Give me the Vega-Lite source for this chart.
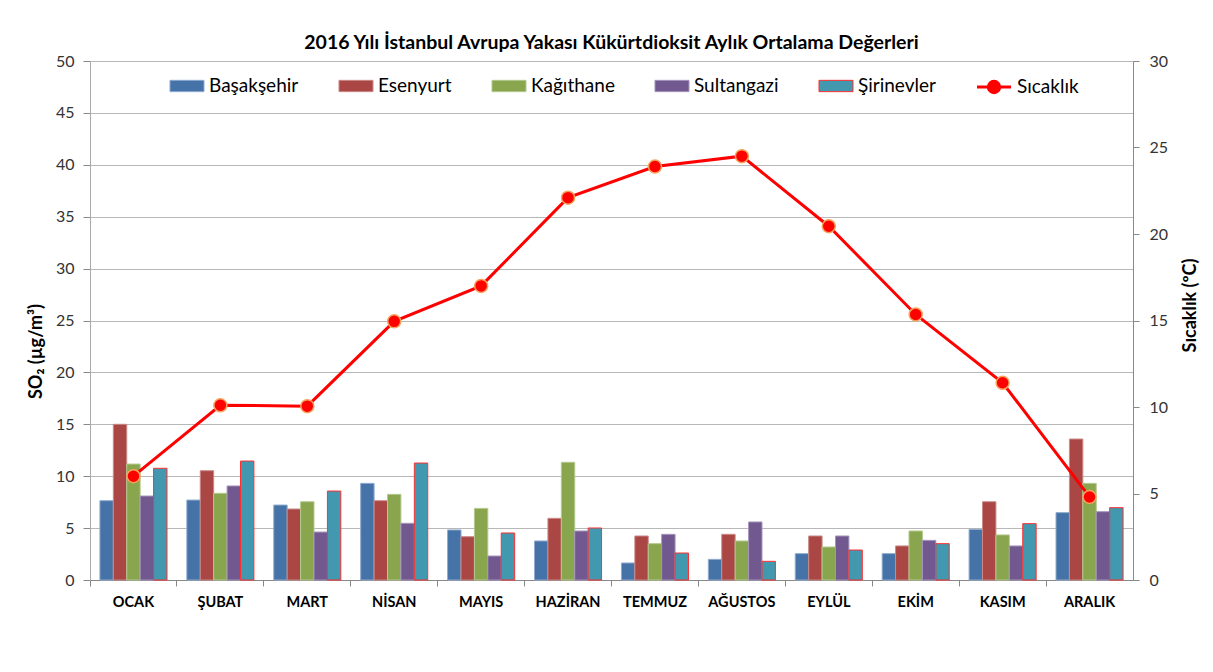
{
  "$schema": "https://vega.github.io/schema/vega-lite/v6.json",
  "width": 1043,
  "height": 519,
  "autosize": {"type": "none"},
  "padding": {"left": 90, "top": 61, "right": 80, "bottom": 92},
  "background": "white",
  "config": {"font": "Lato", "view": {"stroke": null}},
  "title": {"text": "2016 Yılı İstanbul Avrupa Yakası Kükürtdioksit Aylık Ortalama Değerleri", "fontSize": 19.5, "fontWeight": "bold", "anchor": "middle", "offset": 0, "color": "#000000"},
  "datasets": {
    "so2": [
      {"ay": "OCAK", "istasyon": "Başakşehir", "so2": 7.64},
      {"ay": "OCAK", "istasyon": "Esenyurt", "so2": 15.0},
      {"ay": "OCAK", "istasyon": "Kağıthane", "so2": 11.17},
      {"ay": "OCAK", "istasyon": "Sultangazi", "so2": 8.09},
      {"ay": "OCAK", "istasyon": "Şirinevler", "so2": 10.76},
      {"ay": "ŞUBAT", "istasyon": "Başakşehir", "so2": 7.7},
      {"ay": "ŞUBAT", "istasyon": "Esenyurt", "so2": 10.53},
      {"ay": "ŞUBAT", "istasyon": "Kağıthane", "so2": 8.35},
      {"ay": "ŞUBAT", "istasyon": "Sultangazi", "so2": 9.06},
      {"ay": "ŞUBAT", "istasyon": "Şirinevler", "so2": 11.46},
      {"ay": "MART", "istasyon": "Başakşehir", "so2": 7.22},
      {"ay": "MART", "istasyon": "Esenyurt", "so2": 6.84},
      {"ay": "MART", "istasyon": "Kağıthane", "so2": 7.54},
      {"ay": "MART", "istasyon": "Sultangazi", "so2": 4.62},
      {"ay": "MART", "istasyon": "Şirinevler", "so2": 8.57},
      {"ay": "NİSAN", "istasyon": "Başakşehir", "so2": 9.31},
      {"ay": "NİSAN", "istasyon": "Esenyurt", "so2": 7.64},
      {"ay": "NİSAN", "istasyon": "Kağıthane", "so2": 8.25},
      {"ay": "NİSAN", "istasyon": "Sultangazi", "so2": 5.46},
      {"ay": "NİSAN", "istasyon": "Şirinevler", "so2": 11.27},
      {"ay": "MAYIS", "istasyon": "Başakşehir", "so2": 4.82},
      {"ay": "MAYIS", "istasyon": "Esenyurt", "so2": 4.17},
      {"ay": "MAYIS", "istasyon": "Kağıthane", "so2": 6.9},
      {"ay": "MAYIS", "istasyon": "Sultangazi", "so2": 2.31},
      {"ay": "MAYIS", "istasyon": "Şirinevler", "so2": 4.53},
      {"ay": "HAZİRAN", "istasyon": "Başakşehir", "so2": 3.76},
      {"ay": "HAZİRAN", "istasyon": "Esenyurt", "so2": 5.94},
      {"ay": "HAZİRAN", "istasyon": "Kağıthane", "so2": 11.34},
      {"ay": "HAZİRAN", "istasyon": "Sultangazi", "so2": 4.72},
      {"ay": "HAZİRAN", "istasyon": "Şirinevler", "so2": 5.01},
      {"ay": "TEMMUZ", "istasyon": "Başakşehir", "so2": 1.64},
      {"ay": "TEMMUZ", "istasyon": "Esenyurt", "so2": 4.24},
      {"ay": "TEMMUZ", "istasyon": "Kağıthane", "so2": 3.5},
      {"ay": "TEMMUZ", "istasyon": "Sultangazi", "so2": 4.4},
      {"ay": "TEMMUZ", "istasyon": "Şirinevler", "so2": 2.6},
      {"ay": "AĞUSTOS", "istasyon": "Başakşehir", "so2": 1.99},
      {"ay": "AĞUSTOS", "istasyon": "Esenyurt", "so2": 4.4},
      {"ay": "AĞUSTOS", "istasyon": "Kağıthane", "so2": 3.76},
      {"ay": "AĞUSTOS", "istasyon": "Sultangazi", "so2": 5.59},
      {"ay": "AĞUSTOS", "istasyon": "Şirinevler", "so2": 1.8},
      {"ay": "EYLÜL", "istasyon": "Başakşehir", "so2": 2.54},
      {"ay": "EYLÜL", "istasyon": "Esenyurt", "so2": 4.24},
      {"ay": "EYLÜL", "istasyon": "Kağıthane", "so2": 3.18},
      {"ay": "EYLÜL", "istasyon": "Sultangazi", "so2": 4.24},
      {"ay": "EYLÜL", "istasyon": "Şirinevler", "so2": 2.89},
      {"ay": "EKİM", "istasyon": "Başakşehir", "so2": 2.54},
      {"ay": "EKİM", "istasyon": "Esenyurt", "so2": 3.28},
      {"ay": "EKİM", "istasyon": "Kağıthane", "so2": 4.72},
      {"ay": "EKİM", "istasyon": "Sultangazi", "so2": 3.82},
      {"ay": "EKİM", "istasyon": "Şirinevler", "so2": 3.5},
      {"ay": "KASIM", "istasyon": "Başakşehir", "so2": 4.88},
      {"ay": "KASIM", "istasyon": "Esenyurt", "so2": 7.54},
      {"ay": "KASIM", "istasyon": "Kağıthane", "so2": 4.34},
      {"ay": "KASIM", "istasyon": "Sultangazi", "so2": 3.28},
      {"ay": "KASIM", "istasyon": "Şirinevler", "so2": 5.43},
      {"ay": "ARALIK", "istasyon": "Başakşehir", "so2": 6.49},
      {"ay": "ARALIK", "istasyon": "Esenyurt", "so2": 13.58},
      {"ay": "ARALIK", "istasyon": "Kağıthane", "so2": 9.31},
      {"ay": "ARALIK", "istasyon": "Sultangazi", "so2": 6.58},
      {"ay": "ARALIK", "istasyon": "Şirinevler", "so2": 6.97}
    ],
    "sicaklik": [
      {"ay": "OCAK", "t": 6.0},
      {"ay": "ŞUBAT", "t": 10.1},
      {"ay": "MART", "t": 10.05},
      {"ay": "NİSAN", "t": 14.95},
      {"ay": "MAYIS", "t": 17.0},
      {"ay": "HAZİRAN", "t": 22.1},
      {"ay": "TEMMUZ", "t": 23.9},
      {"ay": "AĞUSTOS", "t": 24.5},
      {"ay": "EYLÜL", "t": 20.45},
      {"ay": "EKİM", "t": 15.35},
      {"ay": "KASIM", "t": 11.4},
      {"ay": "ARALIK", "t": 4.8}
    ]
  },
  "layer": [
    {
      "data": {"name": "so2"},
      "mark": {"type": "bar", "strokeWidth": 1},
      "encoding": {
        "x": {
          "field": "ay", "type": "nominal",
          "sort": ["OCAK", "ŞUBAT", "MART", "NİSAN", "MAYIS", "HAZİRAN", "TEMMUZ", "AĞUSTOS", "EYLÜL", "EKİM", "KASIM", "ARALIK"],
          "scale": {"paddingInner": 0, "paddingOuter": 0},
          "axis": {"title": null, "labelAngle": 0, "labelFontSize": 14.5, "labelFontWeight": "bold", "labelColor": "#000000", "domainColor": "#888888", "tickColor": "#888888", "tickSize": 6, "bandPosition": 0, "labelPadding": 9, "grid": false}
        },
        "xOffset": {
          "field": "istasyon", "type": "nominal",
          "sort": ["Başakşehir", "Esenyurt", "Kağıthane", "Sultangazi", "Şirinevler"],
          "scale": {"paddingInner": 0, "paddingOuter": 0.74}
        },
        "y": {
          "field": "so2", "type": "quantitative",
          "scale": {"domain": [0, 50]},
          "axis": {"values": [0, 5, 10, 15, 20, 25, 30, 35, 40, 45, 50], "title": "SO₂  (µg/m³)", "titleFontSize": 18, "titleFontWeight": "bold", "titleColor": "#000000", "titleX": -54, "titleY": 290, "titleBaseline": "middle", "titleAngle": 270, "labelFontSize": 16, "labelColor": "#333333", "labelPadding": 9, "domainColor": "#aaaaaa", "tickColor": "#888888", "tickSize": 7, "gridColor": "#b8b8b8"}
        },
        "color": {
          "field": "istasyon", "type": "nominal",
          "sort": ["Başakşehir", "Esenyurt", "Kağıthane", "Sultangazi", "Şirinevler"],
          "scale": {"domain": ["Başakşehir", "Esenyurt", "Kağıthane", "Sultangazi", "Şirinevler"], "range": ["#4572A7", "#AA4643", "#89A54E", "#71588F", "#4198AF"]},
          "legend": {"title": null, "orient": "none", "legendX": 85, "legendY": 13, "direction": "horizontal", "symbolType": "M-1.5,-0.5H1.5V0.5H-1.5Z", "symbolSize": 514, "symbolStrokeWidth": 1, "labelFontSize": 19, "labelColor": "#000000", "labelOffset": 10, "columnPadding": 37}
        },
        "stroke": {
          "field": "istasyon", "type": "nominal",
          "sort": ["Başakşehir", "Esenyurt", "Kağıthane", "Sultangazi", "Şirinevler"],
          "scale": {"domain": ["Başakşehir", "Esenyurt", "Kağıthane", "Sultangazi", "Şirinevler"], "range": ["#8fabcf", "#c98a88", "#b4c98f", "#a594bb", "#ff3030"]},
          "legend": {"title": null, "orient": "none", "legendX": 85, "legendY": 13, "direction": "horizontal", "symbolType": "M-1.5,-0.5H1.5V0.5H-1.5Z", "symbolSize": 514, "symbolStrokeWidth": 1, "labelFontSize": 19, "labelColor": "#000000", "labelOffset": 10, "columnPadding": 37}
        }
      }
    },
    {
      "data": {"name": "sicaklik"},
      "layer": [
        {
          "mark": {"type": "line", "color": "#ff0000", "strokeWidth": 3},
          "encoding": {
            "x": {"field": "ay", "type": "nominal", "sort": ["OCAK", "ŞUBAT", "MART", "NİSAN", "MAYIS", "HAZİRAN", "TEMMUZ", "AĞUSTOS", "EYLÜL", "EKİM", "KASIM", "ARALIK"]},
            "y": {
              "field": "t", "type": "quantitative",
              "scale": {"domain": [0, 30]},
              "axis": {"orient": "right", "values": [0, 5, 10, 15, 20, 25, 30], "grid": false, "title": "Sıcaklık (ºC)", "titleAngle": 270, "titleX": 57, "titleY": 244, "titleBaseline": "middle", "titleFontSize": 18, "titleFontWeight": "bold", "titleColor": "#000000", "labelFontSize": 16, "labelColor": "#333333", "labelPadding": 10, "domainColor": "#888888", "tickColor": "#888888", "tickSize": 6}
            }
          }
        },
        {
          "mark": {"type": "point", "filled": true, "size": 169, "opacity": 1, "stroke": "#f7a35c", "strokeWidth": 1.5},
          "encoding": {
            "x": {"field": "ay", "type": "nominal", "sort": ["OCAK", "ŞUBAT", "MART", "NİSAN", "MAYIS", "HAZİRAN", "TEMMUZ", "AĞUSTOS", "EYLÜL", "EKİM", "KASIM", "ARALIK"]},
            "y": {"field": "t", "type": "quantitative"},
            "fill": {
              "datum": "Sıcaklık",
              "scale": {"domain": ["Sıcaklık"], "range": ["#ff0000"]},
              "legend": {"title": null, "orient": "none", "legendX": 891, "legendY": 13, "symbolType": "M-1.5,0H-0.5M0.5,0H1.5M-0.5,0A0.5,0.5 0 1,1 0.5,0A0.5,0.5 0 1,1 -0.5,0Z", "symbolSize": 514, "symbolStrokeColor": "#ff0000", "symbolStrokeWidth": 3, "labelFontSize": 19, "labelColor": "#000000", "labelOffset": 10}
            }
          }
        }
      ]
    }
  ],
  "resolve": {"scale": {"y": "independent"}}
}
